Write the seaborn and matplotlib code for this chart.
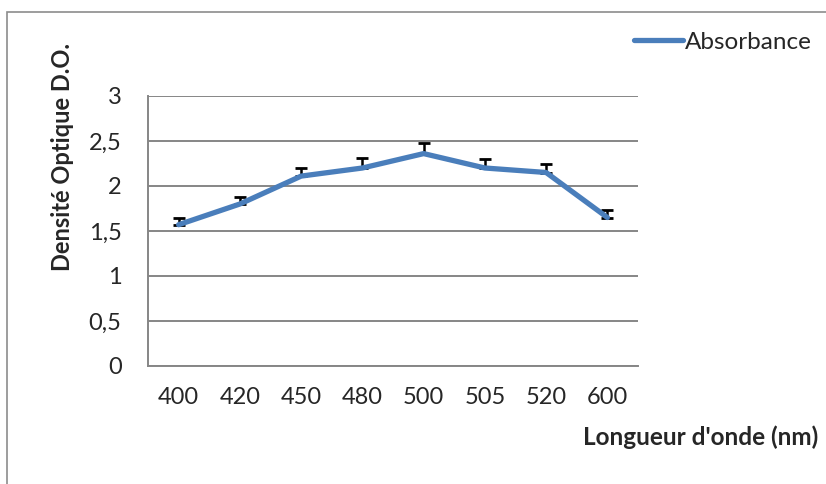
#!/usr/bin/env python3
import matplotlib
matplotlib.use("Agg")
import matplotlib.pyplot as plt
from matplotlib.patches import Rectangle
import numpy as np
import pandas as pd
import seaborn as sns

# data
wavelengths = ["400", "420", "450", "480", "500", "505", "520", "600"]
absorbance = [1.57, 1.80, 2.11, 2.20, 2.36, 2.20, 2.15, 1.65]
err_upper = [0.08, 0.08, 0.09, 0.11, 0.12, 0.10, 0.10, 0.08]
y_ticks = [0, 0.5, 1, 1.5, 2, 2.5, 3]
y_tick_labels = ["0", "0,5", "1", "1,5", "2", "2,5", "3"]

LINE_BLUE = "#4A7EBB"
GRID_GRAY = "#868686"

sns.set_theme(style="white")
plt.rcParams["font.family"] = ["Lato", "DejaVu Sans"]

df = pd.DataFrame({"pos": np.arange(len(wavelengths)), "wl": wavelengths, "abs": absorbance})

fig = plt.figure(figsize=(8.26, 4.84), dpi=100)
ax = fig.add_axes([148 / 826, 1 - 366 / 484, 490 / 826, 270 / 484])

# outer chart border (Excel chart area)
fig.patches.append(Rectangle((7 / 826, -0.05), 1.0, 1 - 12 / 484 + 0.05,
                             transform=fig.transFigure, fill=False,
                             edgecolor="#8C8C8C", linewidth=1.2))

ax.errorbar(df["pos"], df["abs"], yerr=[np.zeros(len(err_upper)), err_upper],
            fmt="none", ecolor="black", elinewidth=1.8, capsize=4.5, capthick=2.0, zorder=2)
sns.lineplot(data=df, x="pos", y="abs", color=LINE_BLUE, linewidth=3.8,
             solid_capstyle="round", ax=ax, label="Absorbance", zorder=3)

ax.set_xlim(-0.5, len(wavelengths) - 0.5)
ax.set_ylim(0, 3)
ax.set_yticks(y_ticks)
ax.set_yticklabels(y_tick_labels, fontsize=17)
ax.yaxis.grid(True, color=GRID_GRAY, linewidth=1.4)
ax.set_axisbelow(True)

ax.set_xticks(np.arange(-0.5, len(wavelengths)))
ax.set_xticklabels([])
ax.set_xticks(np.arange(len(wavelengths)), minor=True)
ax.set_xticklabels(wavelengths, minor=True, fontsize=17)
ax.tick_params(axis="x", which="major", length=6, width=1.4, color=GRID_GRAY, direction="out")
ax.tick_params(axis="x", which="minor", length=0, pad=15)
ax.tick_params(axis="y", length=6, width=1.4, color=GRID_GRAY, direction="out", pad=13)

for side in ["top", "right"]:
    ax.spines[side].set_visible(False)
for side in ["left", "bottom"]:
    ax.spines[side].set_color(GRID_GRAY)
    ax.spines[side].set_linewidth(1.4)

ax.set_xlabel("")
ax.set_ylabel("")
fig.text(818 / 826, 1 - 437 / 484, "Longueur d'onde (nm)", ha="right", va="center",
         fontsize=17.5, fontweight="bold")
fig.text(62 / 826, 1 - 157 / 484, "Densité Optique D.O.", ha="center", va="center",
         rotation=90, fontsize=17, fontweight="bold")

ax.legend(loc="center left", bbox_to_anchor=(634 / 826, 1 - 42 / 484),
          bbox_transform=fig.transFigure, frameon=False, fontsize=17.5,
          handlelength=2.0, handletextpad=0.1, borderpad=0, borderaxespad=0)

fig.savefig("out.png", dpi=100)
